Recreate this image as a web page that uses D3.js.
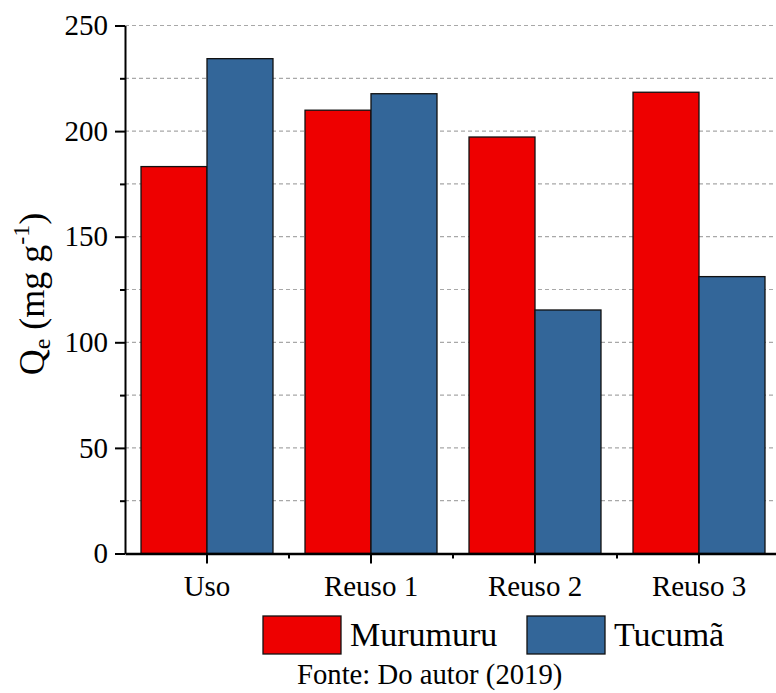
<!DOCTYPE html>
<html><head><meta charset="utf-8">
<script src="https://cdn.jsdelivr.net/npm/d3@7"></script>
<style>
html,body{margin:0;padding:0;background:#fff;}
svg{display:block;}
text{font-family:"Liberation Serif","Times New Roman",serif;fill:#000;}
</style></head>
<body>
<svg id="c" width="776" height="693"></svg>
<script>
const categories = ["Uso", "Reuso 1", "Reuso 2", "Reuso 3"];
const seriesNames = ["Murumuru", "Tucumã"];
const murumuru = [183.2, 209.9, 197.2, 218.4];
const tucuma = [234.3, 217.7, 115.3, 131.1];
const seriesColors = ["#ee0000", "#336699"];
const yTicks = [0, 50, 100, 150, 200, 250];
const yMinor = [25, 75, 125, 175, 225];
const sourceText = "Fonte: Do autor (2019)";

const serif = '"Liberation Serif","Times New Roman",serif';
const values = [murumuru, tucuma];
const svg = d3.select("#c");
const pLeft = 125, pBottom = 553.5, pTop = 25.5, pRight = 781;

const y = d3.scaleLinear().domain([0, 250]).range([pBottom, pTop]);
const x0 = d3.scaleBand().domain(categories).range([pLeft, pRight]).padding(0);
const bw = x0.bandwidth();
const x1 = d3.scaleBand().domain(seriesNames).range([bw * 0.0976, bw * 0.9024]).padding(0);

// grid
const gridVals = yTicks.concat(yMinor).filter(v => v > 0);
svg.append("g").selectAll("line").data(gridVals).join("line")
  .attr("x1", pLeft).attr("x2", 776)
  .attr("y1", d => y(d)).attr("y2", d => y(d))
  .attr("stroke", "#a8a8a8").attr("stroke-width", 1.2)
  .attr("stroke-dasharray", "4,3");

// bars
const g = svg.append("g");
categories.forEach((c, i) => {
  seriesNames.forEach((s, j) => {
    const v = values[j][i];
    g.append("rect")
      .attr("x", x0(c) + x1(s))
      .attr("y", y(v))
      .attr("width", x1.bandwidth())
      .attr("height", y(0) - y(v))
      .attr("fill", seriesColors[j])
      .attr("stroke", "#111").attr("stroke-width", 1.3);
  });
});

// y axis
const yAxis = d3.axisLeft(y).tickValues(yTicks).tickSize(10).tickPadding(7).tickSizeOuter(0);
const ya = svg.append("g").attr("transform", `translate(${pLeft},0)`).call(yAxis)
  .attr("font-family", serif);
ya.select(".domain").attr("stroke", "#000").attr("stroke-width", 2);
ya.selectAll(".tick line").attr("stroke", "#000").attr("stroke-width", 2);
ya.selectAll(".tick text").attr("font-size", 29).attr("font-family", serif);
const yMinorAxis = d3.axisLeft(y).tickValues(yMinor).tickSize(5).tickFormat("").tickSizeOuter(0);
const ym = svg.append("g").attr("transform", `translate(${pLeft},0)`).call(yMinorAxis);
ym.select(".domain").remove();
ym.selectAll(".tick line").attr("stroke", "#000").attr("stroke-width", 2);

// x axis
const xAxis = d3.axisBottom(x0).tickSize(10).tickPadding(12).tickSizeOuter(0);
const xa = svg.append("g").attr("transform", `translate(0,${pBottom})`).call(xAxis)
  .attr("font-family", serif);
xa.select(".domain").attr("stroke", "#000").attr("stroke-width", 2.5);
xa.selectAll(".tick line").attr("stroke", "#000").attr("stroke-width", 2);
xa.selectAll(".tick text").attr("font-size", 29).attr("font-family", serif);
// minor x ticks at band boundaries
const bounds = categories.slice(1).map(c => x0(c));
svg.append("g").selectAll("line").data(bounds).join("line")
  .attr("x1", d => d).attr("x2", d => d)
  .attr("y1", pBottom).attr("y2", pBottom + 5)
  .attr("stroke", "#000").attr("stroke-width", 2);

// y title
const yt = svg.append("text")
  .attr("transform", "translate(44,294) rotate(-90)")
  .attr("text-anchor", "middle").attr("font-size", 36).attr("font-family", serif);
yt.append("tspan").text("Q");
yt.append("tspan").attr("font-size", 24).attr("dy", 6).text("e");
yt.append("tspan").attr("dy", -6).text(" (mg g");
yt.append("tspan").attr("font-size", 24).attr("dy", -15).text("-1");
yt.append("tspan").attr("dy", 15).text(")");

// legend
const legX = [263, 527];
seriesNames.forEach((s, j) => {
  svg.append("rect").attr("x", legX[j]).attr("y", 616).attr("width", 78).attr("height", 38)
    .attr("fill", seriesColors[j]).attr("stroke", "#111").attr("stroke-width", 1.3);
  svg.append("text").attr("x", legX[j] + 87).attr("y", 646).attr("font-size", 34)
    .attr("font-family", serif).text(s);
});

svg.append("text").attr("x", 297).attr("y", 684).attr("font-size", 28.7)
  .attr("font-family", serif).text(sourceText);
</script>
</body></html>
